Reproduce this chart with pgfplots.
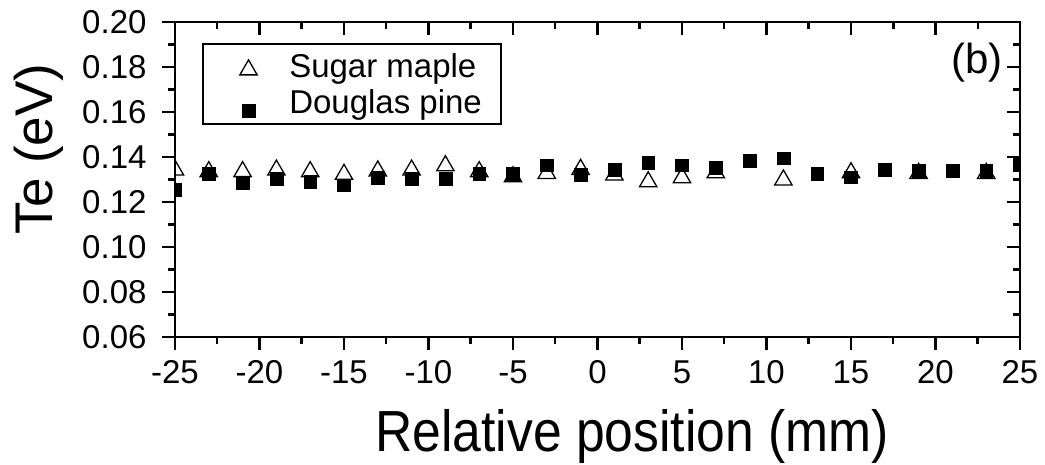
\documentclass[border=0pt]{standalone}
\usepackage{fontspec}
\setmainfont{Liberation Sans}
\usepackage{pgfplots}
\pgfplotsset{compat=1.18}
\pgfplotsset{
  tri legend/.style={legend image code/.code={\path (-28pt,0pt) (38pt,0pt); \draw[##1] plot coordinates {(0pt,-4pt)};}},
  sq legend/.style={legend image code/.code={\path (-28pt,0pt) (38pt,0pt); \draw[##1] plot coordinates {(0pt,-9pt)};}},
  common/.style={
    at={(0,0)}, anchor=south west,
    scale only axis, width=845pt, height=315pt,
    xmin=-25, xmax=25, ymin=0.06, ymax=0.20,
    xtick={-25,-20,-15,-10,-5,0,5,10,15,20,25},
    ytick={0.06,0.08,0.10,0.12,0.14,0.16,0.18,0.20},
    minor x tick num=1, minor y tick num=1,
    major tick length=13pt, minor tick length=7pt,
    axis line style={line width=2.5pt},
    every tick/.style={black, line width=2.5pt},
  }
}
\begin{document}
\begin{tikzpicture}
\path[use as bounding box] (-175pt,-128pt) rectangle (870pt,337pt);
\node[rotate=90, anchor=base, font=\fontsize{53}{62}\selectfont] at (-122pt,188pt) {Te (eV)};
\begin{axis}[common,
  tick align=outside, xtick pos=bottom, ytick pos=left,
  /pgf/number format/assume math mode=true,
  tick label style={font=\fontsize{33}{38}\selectfont},
  yticklabel style={xshift=-12pt, /pgf/number format/.cd, fixed, fixed zerofill, precision=2},
  xticklabel style={yshift=-7pt, /pgf/number format/.cd, fixed},
  clip marker paths=true,
  xlabel={\scalebox{0.89}[1]{Relative position (mm)}},
  xlabel style={font=\fontsize{58}{68}\selectfont, anchor=base, at={(axis description cs:0.541,0)}, yshift=-115pt},
  legend style={at={(axis description cs:0.032,0.933)}, anchor=north west,
    draw=black, line width=1.5pt, inner xsep=17pt, inner ysep=4pt,
    font=\fontsize{33}{36}\selectfont,
    nodes={inner ysep=1pt, text height=29pt, text depth=5pt}},
  legend cell align=left,
]
\addplot[only marks, mark=triangle*, mark size=10pt,
  mark options={fill=white, draw=black, line width=1.3pt}, tri legend]
  table {
x y
-25 0.1342
-23 0.1335
-21 0.1335
-19 0.1342
-17 0.1335
-15 0.1323
-13 0.1338
-11 0.1342
-9 0.1361
-7 0.1335
-5 0.1312
-3 0.1327
-1 0.1345
1 0.1320
3 0.1290
5 0.1308
7 0.1330
11 0.1298
15 0.1330
19 0.1327
23 0.1327
};
\addlegendentry{Sugar maple}
\addplot[only marks, mark=square*, mark size=6.4pt,
  mark options={fill=black, draw=black, line width=0.5pt}, sq legend]
  table {
x y
-25 0.1253
-23 0.1326
-21 0.1284
-19 0.1302
-17 0.1290
-15 0.1274
-13 0.1309
-11 0.1302
-9 0.1304
-7 0.1326
-5 0.1324
-3 0.1363
-1 0.1320
1 0.1342
3 0.1374
5 0.1363
7 0.1352
9 0.1384
11 0.1394
13 0.1324
15 0.1310
17 0.1342
19 0.1338
21 0.1338
23 0.1338
25 0.1364
};
\addlegendentry{Douglas pine}
\node[anchor=base, font=\fontsize{42}{50}\selectfont] at (axis description cs:0.949,0.835) {(b)};
\end{axis}
\begin{axis}[common,
  tick align=inside, xtick pos=top, ytick pos=right,
  xticklabels={}, yticklabels={},
]
\end{axis}
\end{tikzpicture}
\end{document}
